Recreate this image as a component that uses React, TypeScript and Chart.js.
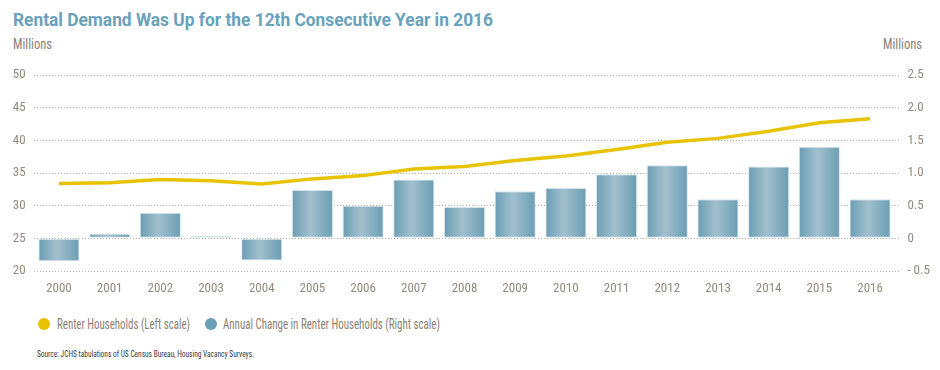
import React, { useEffect, useLayoutEffect, useRef } from "react";
import { Chart, registerables } from "chart.js";

Chart.register(...registerables);

const years = ["2000", "2001", "2002", "2003", "2004", "2005", "2006", "2007", "2008", "2009", "2010", "2011", "2012", "2013", "2014", "2015", "2016"];
const renterHouseholds = [33.4, 33.5, 34.0, 33.8, 33.3, 34.1, 34.6, 35.6, 36.0, 36.9, 37.6, 38.6, 39.7, 40.3, 41.4, 42.7, 43.3];
const annualChange = [-0.35, 0.07, 0.39, 0.04, -0.34, 0.74, 0.5, 0.9, 0.48, 0.72, 0.77, 0.98, 1.12, 0.6, 1.1, 1.4, 0.6];
const leftScale = { min: 20, max: 50, step: 5 };
const rightScale = { min: -0.5, max: 2.5, step: 0.5 };

const COND = "'Roboto Condensed', 'DejaVu Sans Condensed', sans-serif";
const TITLE_FONT = "Roboto, 'DejaVu Sans', sans-serif";
const TICK_COLOR = "#958a7f";
const TEXT_COLOR = "#8c8177";
const GRID_COLOR = "#bdb2a8";
const LINE_COLOR = "#e8c300";
const BAR_EDGE = "#6a9db4";
const BAR_MID = "#a2c0ce";

const barGradient = {
  id: "barGradient",
  beforeDatasetDraw(chart: any, args: any) {
    const meta = args.meta;
    if (meta.type !== "bar") return;
    const ctx = chart.ctx;
    meta.data.forEach((el: any) => {
      const { x, width } = el.getProps(["x", "width"], true);
      const g = ctx.createLinearGradient(x - width / 2, 0, x + width / 2, 0);
      g.addColorStop(0, BAR_EDGE);
      g.addColorStop(0.45, BAR_MID);
      g.addColorStop(1, BAR_EDGE);
      el.options.backgroundColor = g;
    });
  },
};

function Fit({ w, style, children }: { w: number; style: React.CSSProperties; children: React.ReactNode }) {
  const r = useRef<HTMLDivElement | null>(null);
  useLayoutEffect(() => {
    const el = r.current;
    if (!el) return;
    const fit = () => {
      el.style.transform = "none";
      const nat = el.getBoundingClientRect().width;
      if (nat > 0) el.style.transform = `scaleX(${w / nat})`;
    };
    fit();
    const fonts = (document as any).fonts;
    if (fonts && fonts.ready) fonts.ready.then(fit);
  }, [w]);
  return (
    <div ref={r} style={{ position: "absolute", whiteSpace: "nowrap", transformOrigin: "0 0", lineHeight: "normal", ...style }}>
      {children}
    </div>
  );
}

export default function App() {
  const ref = useRef<HTMLCanvasElement | null>(null);

  useEffect(() => {
    if (!ref.current) return;
    const tickFont = { family: COND, size: 13 };
    const chart = new Chart(ref.current, {
      type: "bar",
      data: {
        labels: years,
        datasets: [
          {
            type: "line",
            label: "Renter Households (Left scale)",
            data: renterHouseholds,
            yAxisID: "yLeft",
            borderColor: LINE_COLOR,
            backgroundColor: LINE_COLOR,
            borderWidth: 3.5,
            pointRadius: 0,
            tension: 0,
            order: 0,
          } as any,
          {
            type: "bar",
            label: "Annual Change in Renter Households (Right scale)",
            data: annualChange,
            yAxisID: "yRight",
            backgroundColor: () => "#86adc0",
            borderColor: "#d3e3ea",
            borderWidth: 1,
            borderSkipped: false,
            barPercentage: 0.81,
            categoryPercentage: 1,
            order: 1,
          } as any,
        ],
      },
      options: {
        animation: false,
        responsive: true,
        maintainAspectRatio: false,
        layout: { padding: { top: 20, left: 0, right: 0, bottom: 0 } },
        plugins: {
          legend: { display: false },
          tooltip: { enabled: false },
          title: { display: false },
        },
        scales: {
          x: {
            offset: true,
            grid: { display: false, drawTicks: false },
            border: { display: false },
            ticks: { color: TICK_COLOR, font: tickFont, padding: 10 },
            afterFit: (s: any) => { s.height = 34; },
          },
          yLeft: {
            position: "left",
            min: leftScale.min,
            max: leftScale.max,
            ticks: { stepSize: leftScale.step, color: TICK_COLOR, font: tickFont, padding: 8 },
            grid: { color: GRID_COLOR, lineWidth: 1, drawTicks: false },
            border: { display: false, dash: [1, 2] },
            afterFit: (s: any) => { s.width = 33.6; },
          },
          yRight: {
            position: "right",
            min: rightScale.min,
            max: rightScale.max,
            ticks: {
              stepSize: rightScale.step,
              color: TICK_COLOR,
              font: tickFont,
              padding: 7,
              callback: (v: any) => {
                const n = Number(v);
                if (Math.abs(n) < 1e-9) return "0";
                if (n < 0) return "- " + Math.abs(n).toFixed(1);
                return n.toFixed(1);
              },
            },
            grid: { drawOnChartArea: false, drawTicks: true, tickLength: 5, tickColor: GRID_COLOR, tickBorderDash: [1, 2] } as any,
            border: { display: false },
            afterFit: (s: any) => { s.width = 44.6; },
          },
        },
      } as any,
      plugins: [barGradient],
    });
    return () => chart.destroy();
  }, []);

  const dot = (c: string, left: number): React.CSSProperties => ({
    position: "absolute",
    left: left - 6,
    top: 318,
    width: 12,
    height: 12,
    borderRadius: "50%",
    background: c,
  });

  return (
    <div style={{ position: "absolute", left: 0, top: 0, width: 940, height: 370, background: "#fff", overflow: "hidden" }}>
      <Fit w={480} style={{ left: 13, top: 9, fontFamily: TITLE_FONT, fontSize: 18, fontWeight: "bold", color: "#6aa1bb" }}>
        Rental Demand Was Up for the 12th Consecutive Year in 2016
      </Fit>
      <Fit w={39} style={{ left: 13, top: 36, fontFamily: COND, fontSize: 14, color: TEXT_COLOR }}>Millions</Fit>
      <Fit w={39} style={{ left: 883, top: 36, fontFamily: COND, fontSize: 14, color: TEXT_COLOR }}>Millions</Fit>
      <div style={{ position: "absolute", left: 0, top: 55, width: 940, height: 250 }}>
        <canvas ref={ref} />
      </div>
      <div style={dot(LINE_COLOR, 44.3)} />
      <Fit w={133} style={{ left: 57, top: 316, fontFamily: COND, fontSize: 14, color: TEXT_COLOR }}>
        Renter Households (Left scale)
      </Fit>
      <div style={dot("#6a9fb8", 210.7)} />
      <Fit w={217} style={{ left: 223, top: 316, fontFamily: COND, fontSize: 14, color: TEXT_COLOR }}>
        Annual Change in Renter Households (Right scale)
      </Fit>
      <Fit w={217} style={{ left: 37, top: 349, fontFamily: COND, fontSize: 9, color: "#3a3a3a" }}>
        Source: JCHS tabulations of US Census Bureau, Housing Vacancy Surveys.
      </Fit>
    </div>
  );
}
